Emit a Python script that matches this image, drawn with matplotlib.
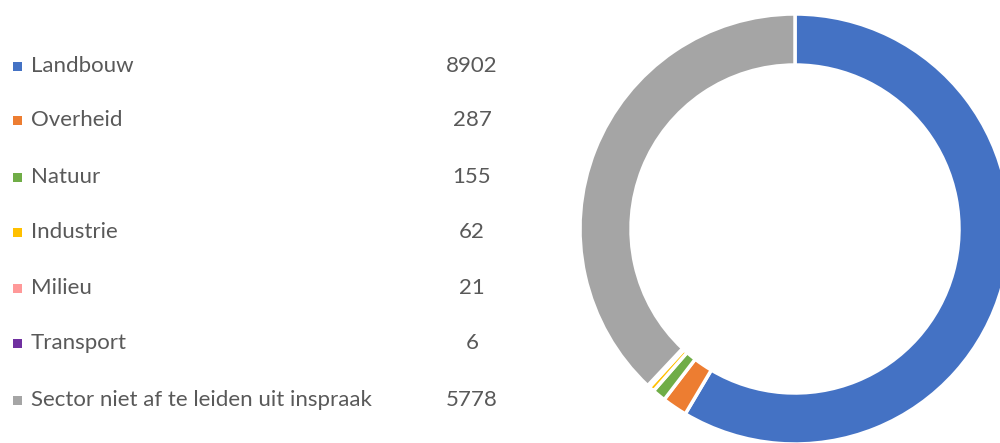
import matplotlib
matplotlib.use("Agg")
import matplotlib.pyplot as plt
from matplotlib.patches import Rectangle

categories = ["Landbouw", "Overheid", "Natuur", "Industrie", "Milieu", "Transport",
              "Sector niet af te leiden uit inspraak"]
values = [8902, 287, 155, 62, 21, 6, 5778]
colors = ["#4472C4", "#ED7D31", "#70AD47", "#FFC000", "#FF9999", "#7030A0", "#A5A5A5"]

fig = plt.figure(figsize=(10, 4.43), dpi=100)
ax = fig.add_axes([0, 0, 1, 1])
ax.set_xlim(0, 1000)
ax.set_ylim(0, 443)
ax.set_aspect("equal")
ax.axis("off")

ax.pie(values, colors=colors, startangle=90, counterclock=False,
       center=(795, 214), radius=215,
       wedgeprops=dict(width=51, edgecolor="white", linewidth=2.5))
ax.set_xlim(0, 1000)
ax.set_ylim(0, 443)

row_y = [66, 120, 177, 232, 288, 343, 400]
txt_color = "#595959"
for cat, val, col, yy in zip(categories, values, colors, row_y):
    y = 443 - yy
    ax.add_patch(Rectangle((13, y - 4.5), 9, 9, facecolor=col, edgecolor="none"))
    ax.text(31, y, cat, ha="left", va="center", fontsize=16,
            family="Lato", color=txt_color)
    ax.text(472, y, str(val), ha="center", va="center", fontsize=16,
            family="Lato", color=txt_color)

fig.savefig("out.png", dpi=100)
